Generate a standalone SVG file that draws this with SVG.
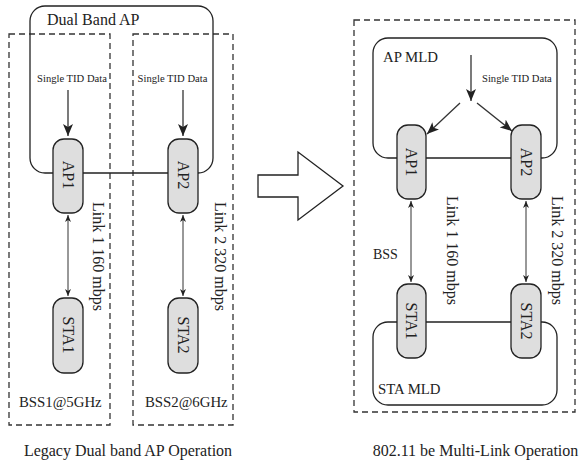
<svg xmlns="http://www.w3.org/2000/svg" width="579" height="462" viewBox="0 0 579 462">
<defs>
<style>
text{font-family:"Liberation Serif","Times New Roman",serif;fill:#222;font-size:16px}
.small{font-size:10.6px}
.lbl{font-size:14.8px}
.dash{fill:none;stroke:#333;stroke-width:1.3;stroke-dasharray:6 4}
.box{fill:none;stroke:#222;stroke-width:1.3}
.node{fill:#dedede;stroke:#222;stroke-width:1.3}
.line{fill:none;stroke:#333;stroke-width:1.3}
.thin{fill:none;stroke:#333;stroke-width:1}
</style>
<marker id="big" markerWidth="13" markerHeight="10" refX="12" refY="5" orient="auto" markerUnits="userSpaceOnUse">
<path d="M0,0 L12,5 L0,10 L3,5 Z" fill="#222"/>
</marker>
<marker id="sm" markerWidth="8" markerHeight="6" refX="7" refY="3" orient="auto-start-reverse" markerUnits="userSpaceOnUse">
<path d="M0,0 L7,3 L0,6 L2,3 Z" fill="#222"/>
</marker>
</defs>
<rect width="579" height="462" fill="#fff"/>

<g id="left-panel">
<rect id="bss1" class="dash" x="9" y="34" width="101" height="391"/>
<rect id="bss2" class="dash" x="133" y="34" width="100" height="391"/>
<g id="dual-band-ap">
<rect class="box" x="30" y="6" width="183" height="167" rx="15"/>
<text x="47" y="25">Dual Band AP</text>
</g>
<text class="small" x="72" y="82" text-anchor="middle">Single TID Data</text>
<text class="small" x="172.5" y="82" text-anchor="middle">Single TID Data</text>
<text class="lbl" x="19" y="407">BSS1@5GHz</text>
<text class="lbl" x="145" y="407">BSS2@6GHz</text>
<text transform="translate(93,202) rotate(90)">Link 1 160 mbps</text>
<text transform="translate(215,202) rotate(90)">Link 2 320 mbps</text>
<text x="128" y="456" text-anchor="middle">Legacy Dual band AP Operation</text>
</g>

<g id="connectors">
<line class="line" x1="68" y1="90" x2="68" y2="136" marker-end="url(#big)"/>
<line class="line" x1="183" y1="90" x2="183" y2="136" marker-end="url(#big)"/>
<line class="thin" x1="68" y1="215" x2="68" y2="296" marker-start="url(#sm)" marker-end="url(#sm)"/>
<line class="thin" x1="183" y1="215" x2="183" y2="296" marker-start="url(#sm)" marker-end="url(#sm)"/>
<line class="line" x1="471" y1="55" x2="471" y2="101" marker-end="url(#big)"/>
<line class="line" x1="460" y1="103" x2="427" y2="134" marker-end="url(#big)"/>
<line class="line" x1="477" y1="103" x2="512" y2="131" marker-end="url(#big)"/>
<line class="thin" x1="411" y1="201" x2="411" y2="282" marker-start="url(#sm)" marker-end="url(#sm)"/>
<line class="thin" x1="526" y1="201" x2="526" y2="282" marker-start="url(#sm)" marker-end="url(#sm)"/>
</g>

<g id="AP1-left">
<rect class="node" x="53" y="139" width="30" height="74" rx="11"/>
<text transform="translate(62.5,175) rotate(90)" text-anchor="middle">AP1</text>
</g>
<g id="AP2-left">
<rect class="node" x="168" y="139" width="30" height="74" rx="11"/>
<text transform="translate(177.5,175) rotate(90)" text-anchor="middle">AP2</text>
</g>
<g id="STA1-left">
<rect class="node" x="53" y="298" width="30" height="75" rx="11"/>
<text transform="translate(62.5,335) rotate(90)" text-anchor="middle">STA1</text>
</g>
<g id="STA2-left">
<rect class="node" x="168" y="298" width="30" height="75" rx="11"/>
<text transform="translate(177.5,335) rotate(90)" text-anchor="middle">STA2</text>
</g>

<g id="transition-arrow">
<path d="M258,175 L298,175 L298,152 L343,186 L298,220 L298,197 L258,197 Z" fill="#fff" stroke="#222" stroke-width="1.3"/>
</g>

<g id="right-panel">
<rect class="dash" x="354" y="20" width="221" height="392"/>
<g id="ap-mld">
<rect class="box" x="373" y="38" width="184" height="120" rx="15"/>
<text class="lbl" x="383" y="62">AP MLD</text>
</g>
<g id="sta-mld">
<rect class="box" x="373" y="322" width="184" height="83" rx="15"/>
<text class="lbl" x="378" y="394">STA MLD</text>
</g>
<text class="small" x="482" y="82">Single TID Data</text>
<text x="373" y="259" style="font-size:14px">BSS</text>
<text transform="translate(447,196) rotate(90)">Link 1 160 mbps</text>
<text transform="translate(552,196) rotate(90)">Link 2 320 mbps</text>
<text x="475.5" y="456" text-anchor="middle">802.11 be Multi-Link Operation</text>
</g>

<g id="AP1-right">
<rect class="node" x="397" y="125" width="29" height="74" rx="11"/>
<text transform="translate(406,162) rotate(90)" text-anchor="middle">AP1</text>
</g>
<g id="AP2-right">
<rect class="node" x="511" y="125" width="30" height="74" rx="11"/>
<text transform="translate(520.5,162) rotate(90)" text-anchor="middle">AP2</text>
</g>
<g id="STA1-right">
<rect class="node" x="397" y="284" width="29" height="74" rx="11"/>
<text transform="translate(406,321) rotate(90)" text-anchor="middle">STA1</text>
</g>
<g id="STA2-right">
<rect class="node" x="511" y="284" width="30" height="74" rx="11"/>
<text transform="translate(520.5,321) rotate(90)" text-anchor="middle">STA2</text>
</g>
</svg>
